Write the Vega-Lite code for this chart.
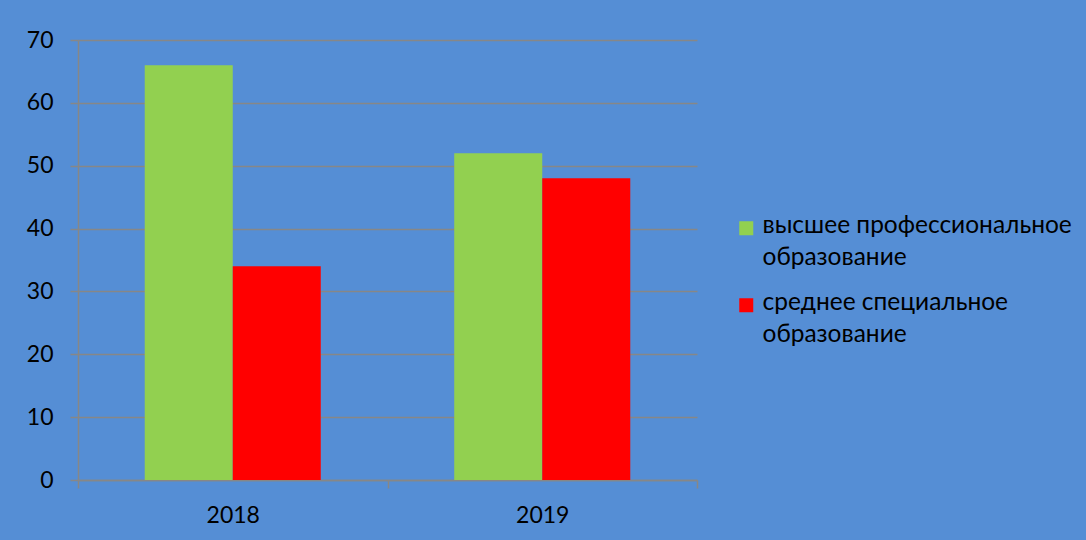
{
  "$schema": "https://vega.github.io/schema/vega-lite/v6.json",
  "width": 619,
  "height": 440,
  "autosize": {"type": "none"},
  "padding": {"left": 78, "top": 40, "right": 389, "bottom": 60},
  "background": "#558ED5",
  "config": {
    "view": {"stroke": null},
    "font": "Lato",
    "axis": {
      "labelFont": "Lato",
      "labelFontSize": 23,
      "labelColor": "#000000",
      "domainColor": "#878787",
      "domainWidth": 1.5,
      "tickColor": "#878787",
      "tickWidth": 1.5,
      "gridColor": "#878787",
      "gridWidth": 1.5,
      "tickSize": 8,
      "title": null
    }
  },
  "data": {
    "values": [
      {"year": "2018", "category": "высшее профессиональное|образование", "value": 66},
      {"year": "2018", "category": "среднее специальное|образование", "value": 34},
      {"year": "2019", "category": "высшее профессиональное|образование", "value": 52},
      {"year": "2019", "category": "среднее специальное|образование", "value": 48}
    ]
  },
  "mark": {"type": "bar"},
  "encoding": {
    "x": {
      "field": "year",
      "type": "nominal",
      "scale": {"paddingInner": 0, "paddingOuter": 0},
      "axis": {
        "labelAngle": 0,
        "labelPadding": 16,
        "tickBand": "extent",
        "grid": false
      }
    },
    "xOffset": {
      "field": "category",
      "type": "nominal",
      "scale": {"paddingInner": 0, "paddingOuter": 0.758}
    },
    "y": {
      "field": "value",
      "type": "quantitative",
      "scale": {"domain": [0, 70], "nice": false},
      "axis": {
        "values": [0, 10, 20, 30, 40, 50, 60, 70],
        "labelPadding": 17,
        "grid": true
      }
    },
    "color": {
      "field": "category",
      "type": "nominal",
      "scale": {
        "domain": ["высшее профессиональное|образование", "среднее специальное|образование"],
        "range": ["#92D050", "#FF0000"]
      },
      "legend": {
        "title": null,
        "orient": "none",
        "legendX": 656,
        "legendY": 176,
        "padding": 0,
        "symbolType": "square",
        "symbolSize": 196,
        "symbolStrokeWidth": 0,
        "symbolOpacity": 1,
        "labelFont": "Lato",
        "labelFontSize": 24.5,
        "labelColor": "#000000",
        "labelOffset": 4,
        "labelLimit": 400,
        "labelBaseline": "top",
        "rowPadding": 20,
        "labelExpr": "split(datum.label, '|')",
        "encode": {
          "labels": {"update": {"lineHeight": {"value": 32}, "dy": {"value": -14}}}
        }
      }
    }
  }
}
